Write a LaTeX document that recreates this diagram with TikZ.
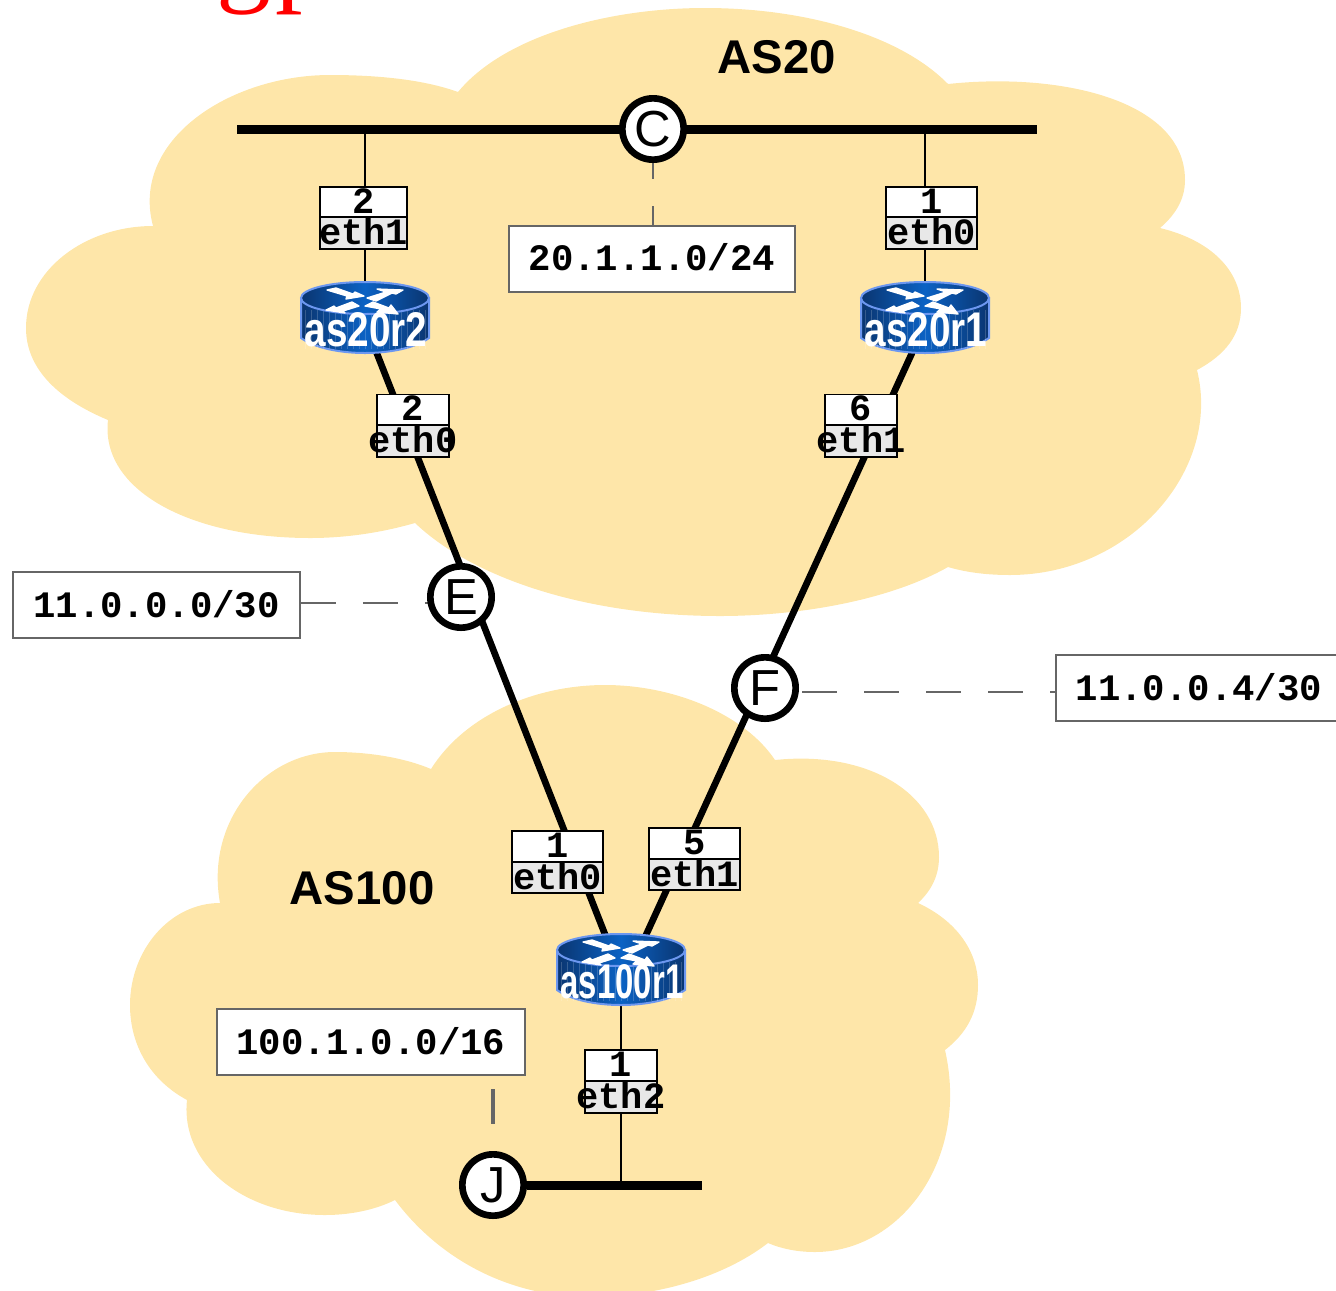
\documentclass[tikz,border=0pt]{standalone}
\usepackage{fontspec}
\usepackage{graphicx}
\setmainfont{Liberation Sans}
\newfontfamily\monoB[Scale=1]{Liberation Mono}
\newfontfamily\serifR{Liberation Serif}
\usetikzlibrary{arrows.meta}
\pgfdeclarelayer{clouds}
\pgfdeclarelayer{lines}
\pgfsetlayers{clouds,lines,main}
\definecolor{cloudc}{HTML}{FEE6A9}
\definecolor{boxgray}{HTML}{666666}
\definecolor{ethgray}{HTML}{E8E8E8}
\definecolor{rdark}{HTML}{0A3570}
\definecolor{rmid}{HTML}{0B62C4}
\definecolor{redge}{HTML}{6C97F0}
\tikzset{
  x=0.75pt,y=-0.75pt,
  cloud fill/.style={fill=cloudc,draw=none},
  bus/.style={line width=6.75pt,black},
  link/.style={line width=5pt,black},
  thinlink/.style={line width=2.1pt,black},
  leader/.style={boxgray,line width=1.2pt,dash pattern=on 26.25pt off 20.25pt},
  subnet/.style={circle,draw=black,fill=white,line width=5pt,minimum size=46pt,inner sep=0pt,font=\fontsize{38}{38}\selectfont},
  addr/.style={draw=boxgray,fill=white,line width=1.5pt,inner sep=0pt,minimum height=49.5pt,text height=18pt,text depth=0pt,font=\monoB\bfseries\fontsize{28}{29}\selectfont},
  numbox/.style={draw=black,fill=white,line width=1.3pt,inner sep=0pt,text height=16.5pt,text depth=0pt,font=\monoB\bfseries\fontsize{27.8}{28}\selectfont},
  ethbox/.style={numbox,fill=ethgray,text height=17.5pt},
  asname/.style={font=\bfseries\fontsize{35.5}{36}\selectfont,inner sep=0pt},
  routerbox/.style={inner sep=0pt,minimum width=97.5pt,minimum height=53pt},
  rarrowfill/.style={fill=white,draw=white,line width=1pt,line join=round},
  pics/routerart/.style={code={
    \fill[left color=rdark,right color=rdark,middle color=rmid,draw=redge,line width=1.5pt]
      (-64,-20) -- (-64,20) .. controls (-50,30) and (-25,35) .. (0,35)
      .. controls (25,35) and (50,30) .. (64,20) -- (64,-20) -- cycle;
    \foreach \sx in {-60,-54,...,60}{\draw[white,opacity=.18,line width=.4pt] (\sx,-8) -- (\sx,31);}
    \fill[left color=rdark,right color=rdark,middle color=rmid,draw=redge,line width=1.5pt]
      (0,-20) ellipse [x radius=64, y radius=16];
    \path[rarrowfill] (-38,-28) -- (-29,-30) -- (-12,-24) -- (-10,-26) -- (-1,-22) -- (-19,-19) -- (-18,-22) -- cycle;
    \path[rarrowfill] (2,-20) -- (21,-26) -- (12,-29) -- (38,-28) -- (31,-24) -- (27,-25) -- (11,-17) -- cycle;
    \path[rarrowfill] (-39,-8) -- (-31,-12) -- (-29,-10) -- (-13,-16) -- (-6,-12) -- (-22,-7) -- (-20,-5) -- cycle;
    \path[rarrowfill] (0,-12) -- (8,-16) -- (24,-10) -- (26,-13) -- (33,-4) -- (12,-6) -- (16,-9) -- cycle;
    \node[inner sep=0pt,text=white,font=\bfseries] (-label) at (1,12) {\resizebox{92pt}{25.5pt}{#1}};
  }}
}
\newcommand{\ifacebox}[8]{%
  \node[numbox,minimum width=#6*.75pt,minimum height=(#4-#3)*.75pt] (#1num) at ({#2},{(#3+#4)/2}) {\makebox[0pt]{#7}};
  \node[ethbox,minimum width=#6*.75pt,minimum height=(#5-#4)*.75pt] (#1eth) at ({#2},{(#4+#5)/2}) {\makebox[0pt]{#8}};
}
\begin{document}
\begin{tikzpicture}
\useasboundingbox (0,0) rectangle (1336,1290);
\begin{scope}
\clip (0,0) rectangle (1336,1290);
\node[anchor=base west,inner sep=0pt,text=red,font=\serifR\fontsize{82.5}{83}\selectfont] (headline) at (216,-9) {g\kern 3pt p};
\end{scope}

\begin{pgfonlayer}{clouds}
\begin{scope}
\clip (0,0) rectangle (1336,1290);
\path[cloud fill] (458,92)
 .. controls (505,35) and (610,8) .. (705,8)
 .. controls (805,8) and (900,35) .. (948,84)
 .. controls (1060,72) and (1185,100) .. (1185,180)
 .. controls (1185,200) and (1175,215) .. (1160,228)
 .. controls (1210,240) and (1241,270) .. (1241,308)
 .. controls (1241,335) and (1225,355) .. (1197,370)
 .. controls (1222,470) and (1130,575) .. (1010,575)
 .. controls (985,575) and (965,572) .. (948,567)
 .. controls (890,600) and (800,616) .. (720,616)
 .. controls (590,616) and (475,580) .. (415,523)
 .. controls (380,533) and (345,538) .. (310,538)
 .. controls (190,538) and (100,490) .. (108,420)
 .. controls (60,400) and (26,370) .. (26,328)
 .. controls (26,270) and (85,226) .. (153,226)
 .. controls (130,140) and (230,75) .. (330,75)
 .. controls (380,75) and (425,80) .. (458,92) -- cycle;
\path[cloud fill] (431,769)
 .. controls (465,715) and (535,685) .. (605,685)
 .. controls (675,685) and (745,715) .. (775,760)
 .. controls (870,750) and (939,795) .. (939,857)
 .. controls (939,875) and (932,890) .. (918,903)
 .. controls (955,920) and (978,950) .. (978,985)
 .. controls (978,1012) and (967,1033) .. (945,1050)
 .. controls (970,1160) and (900,1252) .. (815,1252)
 .. controls (798,1252) and (782,1249) .. (768,1243)
 .. controls (720,1280) and (650,1297) .. (590,1297)
 .. controls (510,1297) and (440,1260) .. (395,1200)
 .. controls (375,1210) and (350,1215) .. (325,1215)
 .. controls (245,1215) and (180,1165) .. (187,1100)
 .. controls (150,1080) and (130,1045) .. (130,1005)
 .. controls (130,950) and (170,903) .. (220,903)
 .. controls (205,820) and (265,752) .. (335,752)
 .. controls (370,752) and (405,758) .. (431,769) -- cycle;
\end{scope}
\end{pgfonlayer}

% subnets
\node[subnet] (C) at (653,129) {C};
\node[subnet] (E) at (461,597) {E};
\node[subnet] (F) at (765,688) {F};
\node[subnet] (J) at (493,1185) {J};

% routers
\node[routerbox] (as20r2) at (365,318) {};
\node[routerbox] (as20r1) at (925,318) {};
\node[routerbox] (as100r1) at (621,970) {};
\pic (as20r2art) at (as20r2) {routerart=as20r2};
\pic (as20r1art) at (as20r1) {routerart=as20r1};
\pic (as100r1art) at (as100r1) {routerart=as100r1};

% address boxes
\node[addr,minimum width=214.5pt] (addrC) at (652,258.5) {20.1.1.0/24};
\node[addr,minimum width=215pt] (addrE) at (156.5,605) {11.0.0.0/30};
\node[addr,minimum width=214pt] (addrF) at (1199,688) {11.0.0.4/30};
\node[addr,minimum width=231pt] (addrJ) at (371,1042) {100.1.0.0/16};

% interface labels
\ifacebox{lanA}{363.5}{187}{217}{249}{87}{2}{eth1}
\ifacebox{lanB}{931.5}{187}{217}{249}{91}{1}{eth0}
\ifacebox{wanA}{413}{394.5}{425}{457}{72}{2}{eth0}
\ifacebox{wanB}{861}{394.5}{425}{457}{72}{6}{eth1}
\ifacebox{upA}{557.5}{831}{862}{893}{91}{1}{eth0}
\ifacebox{upB}{694.5}{828}{859}{890}{91}{5}{eth1}
\ifacebox{lanC}{621}{1050}{1081}{1113}{72}{1}{eth2}

\node[asname] (as20name) at (777,57) {AS20};
\node[asname] (as100name) at (362,888) {AS100};

\coordinate (busCl) at (237,129);
\coordinate (busCr) at (1037,129);
\coordinate (tapA) at (365,129);
\coordinate (tapB) at (925,129);
\coordinate (busJr) at (702,1185);
\coordinate (tapC) at (621,1185);
\coordinate (leadE) at (461,603);
\coordinate (leadF) at (765,692);

\begin{pgfonlayer}{lines}
\draw[bus] (busCl) -- (busCr);
\draw[bus] (J) -- (busJr);
\draw[thinlink] (tapA) -- (as20r2);
\draw[thinlink] (tapB) -- (as20r1);
\draw[thinlink] (as100r1) -- (tapC);
\draw[link] ([xshift=-1.5pt]as20r2.center) -- ([xshift=-1.5pt]as100r1.center);
\draw[link] ([xshift=2.25pt]as20r1.center) -- ([xshift=6.75pt]as100r1.center);
\draw[leader,dash phase=14.25pt] (C) -- (C |- addrC.north);
\draw[leader] (addrE.east |- leadE) -- (leadE);
\draw[leader,dash phase=18.75pt] (leadF) -- (addrF.west |- leadF);
\draw[leader,line width=3.6pt,dash phase=36.75pt] (J |- addrJ.south) -- (J);
\end{pgfonlayer}
\end{tikzpicture}
\end{document}
